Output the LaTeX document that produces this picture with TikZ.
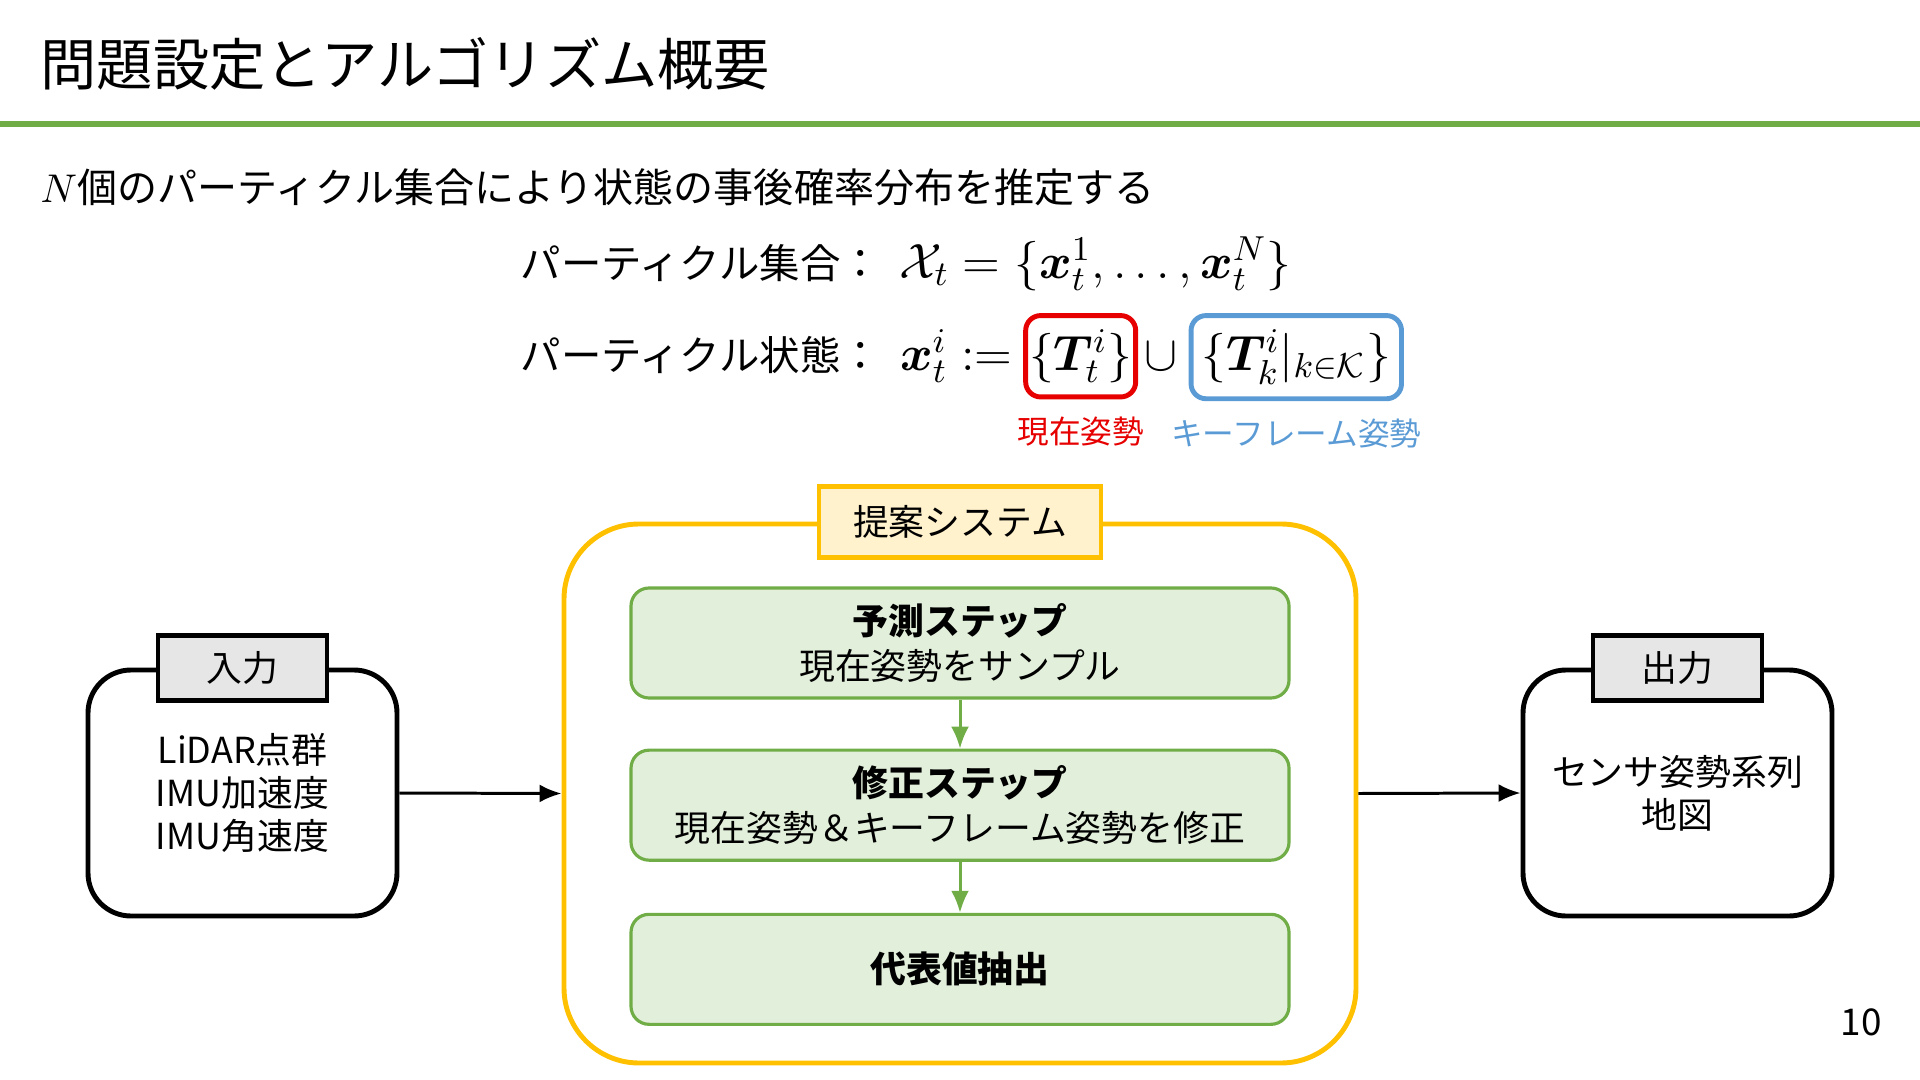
\RequirePackage{fix-cm}
\documentclass[tikz,border=0pt]{standalone}
\usepackage{amsmath,bm}
\usepackage[no-math]{fontspec}
\setmainfont{Noto Sans CJK JP}
\usetikzlibrary{positioning,arrows.meta}
\definecolor{verde}{HTML}{70AD47}
\definecolor{verdeclaro}{HTML}{E2EFDA}
\definecolor{amarillo}{HTML}{FFC000}
\definecolor{amarilloclaro}{HTML}{FFF2CC}
\definecolor{rojo}{HTML}{E60000}
\definecolor{azul}{HTML}{5B9BD5}
\definecolor{gris}{HTML}{E7E6E6}
\begin{document}
\begin{tikzpicture}[
        paso/.style={draw=verde, fill=verdeclaro, line width=0.9pt, rounded corners=0.18cm,
            minimum width=6.58cm, minimum height=1.10cm, align=center,
            font=\fontsize{10.2}{12.8}\selectfont},
        caja/.style={draw, line width=1.4pt, rounded corners=0.43cm, minimum width=3.09cm,
            minimum height=2.46cm, align=center, font=\fontsize{10.2}{12.2}\selectfont},
        etiqueta/.style={draw, line width=1.4pt, fill=gris, minimum width=1.69cm,
            minimum height=0.65cm, font=\fontsize{10.2}{12}\selectfont},
        marco/.style={line width=1.4pt, rounded corners=0.15cm, inner xsep=1pt, inner ysep=4pt},
        flecha/.style={-{Latex[length=2.2mm,width=1.8mm]}, line width=0.85pt},
        texto/.style={font=\fontsize{11.5}{13.5}\selectfont, inner sep=0pt},
        formula/.style={font=\fontsize{14.1}{17}\selectfont, inner sep=0pt}
    ]
        \useasboundingbox (0,0) rectangle (19.2,-10.8);

        % Título
        \node[anchor=west, inner sep=0pt, font=\fontsize{16}{19}\selectfont] (titulo) at (0.40,-0.64) {問題設定とアルゴリズム概要};
        \draw[verde, line width=1.7pt] (0,-1.24) -- (19.2,-1.24);

        \node[texto, font=\fontsize{11.4}{13.5}\selectfont, anchor=west] (sub) at (0.40,-1.87) {$N$個のパーティクル集合により状態の事後確率分布を推定する};

        % Conjunto de partículas
        \node[texto, anchor=west] (conj) at (5.20,-2.63) {パーティクル集合：};
        \node[formula, right=0.17cm of conj.base east, anchor=base west] (conjf) {$\mathcal{X}_t = \{\bm{x}_t^1, \ldots, \bm{x}_t^N\}$};

        % Estado de partícula
        \node[texto, anchor=west] (est) at (5.20,-3.55) {パーティクル状態：};
        \node[formula, right=0.18cm of est.base east, anchor=base west] (estf) {$\bm{x}_t^i \mathrel{:=}$};
        \node[formula, marco, draw=rojo, right=0.1cm of estf.base east, anchor=base west] (cur) {$\{\bm{T}_t^i\}$};
        \node[formula, right=0.06cm of cur.base east, anchor=base west] (cup) {$\cup$};
        \node[formula, marco, draw=azul, inner xsep=3pt, right=0.1cm of cup.base east, anchor=base west] (key) {$\{\bm{T}_k^i|_{k\in\mathcal{K}}\}$};
        \node[texto, rojo, font=\fontsize{9}{11}\selectfont, below=0.17cm of cur] (lcur) {現在姿勢};
        \node[texto, azul, font=\fontsize{9}{11}\selectfont, below=0.17cm of key] (lkey) {キーフレーム姿勢};

        % Sistema propuesto
        \node[draw=amarillo, line width=1.4pt, rounded corners=0.75cm, minimum width=7.92cm, minimum height=5.39cm] (sis) at (9.60,-7.935) {};
        \node[draw=amarillo, fill=amarilloclaro, line width=1.4pt, minimum width=2.82cm, minimum height=0.71cm, font=\fontsize{10.2}{12}\selectfont] (lsis) at (sis.north) {提案システム};

        \node[paso] (p1) at (9.60,-6.43) {\textbf{予測ステップ}\\現在姿勢をサンプル};
        \node[paso, below=0.49cm of p1] (p2) {\textbf{修正ステップ}\\現在姿勢＆キーフレーム姿勢を修正};
        \node[paso, below=0.51cm of p2] (p3) {\textbf{代表値抽出}};

        \draw[flecha, verde] (p1) -- (p2);
        \draw[flecha, verde] (p2) -- (p3);

        % Entrada y salida
        \node[caja] (ent) at (2.425,-7.93) {LiDAR点群\\IMU加速度\\IMU角速度};
        \node[etiqueta] (lent) at (ent.north) {入力};
        \node[caja] (sal) at (16.775,-7.93) {センサ姿勢系列\\地図};
        \node[etiqueta] (lsal) at (sal.north) {出力};

        \draw[flecha] (ent.east) -- (sis.west);
        \draw[flecha] (sis.east) -- (sal.west);

        \node[font=\fontsize{10.5}{12}\selectfont] (pagina) at (18.61,-10.22) {10};
    \end{tikzpicture}
\end{document}
